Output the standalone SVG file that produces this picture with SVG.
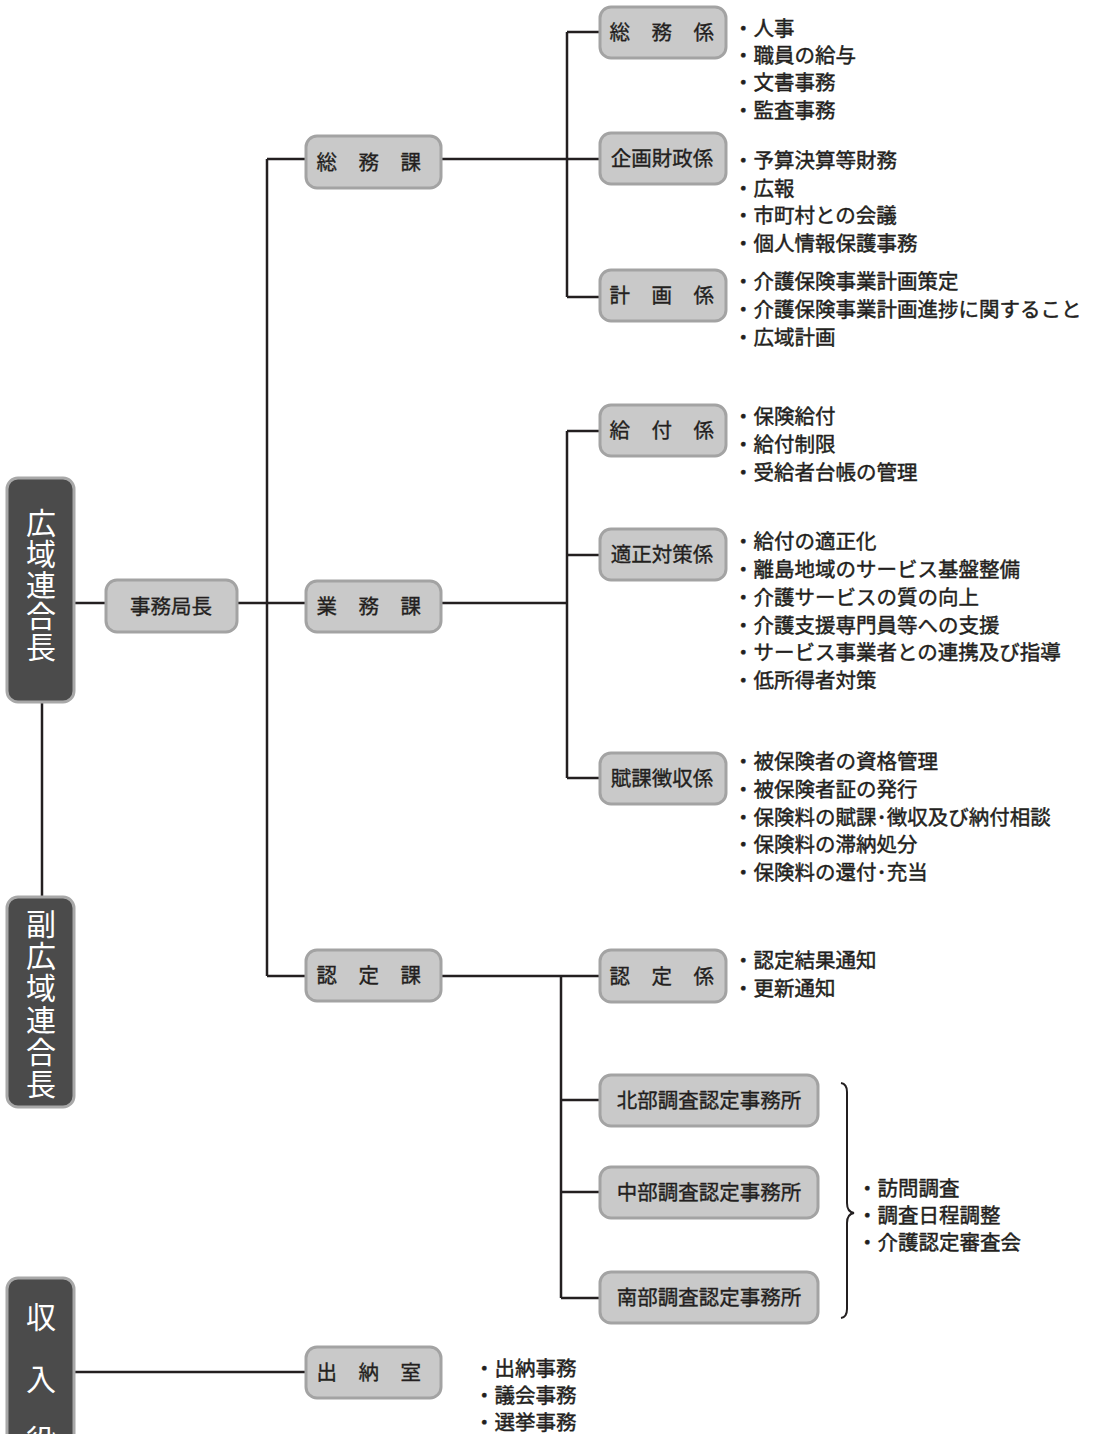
<svg xmlns="http://www.w3.org/2000/svg" width="1093" height="1434" viewBox="0 0 1093 1434">
<style>
.bx{fill:#c9c9c9;stroke:#a3a3a3;stroke-width:3}
.dk{fill:#4b4b4b;stroke:#a8a8a8;stroke-width:3}
.lbl{font-family:"Noto Sans CJK JP","Noto Sans CJK SC",sans-serif;font-size:20.5px;fill:#231f20;stroke:#231f20;stroke-width:0.35;text-anchor:middle}
.vt{font-family:"Noto Sans CJK JP","Noto Sans CJK SC",sans-serif;font-size:30px;fill:#ffffff;writing-mode:vertical-rl;text-orientation:upright}
.li{font-family:"Noto Sans CJK JP","Noto Sans CJK SC",sans-serif;font-size:20.5px;fill:#231f20;stroke:#231f20;stroke-width:0.45}
.cn{stroke:#231f20;stroke-width:2.5;fill:none}
</style>
<rect width="1093" height="1434" fill="#ffffff"/>
<g id="connectors" class="cn">
<path d="M42,702V897"/>
<path d="M74,603H106"/>
<path d="M237,603H306"/>
<path d="M267,159V976"/>
<path d="M267,159H306"/>
<path d="M267,976H306"/>
<path d="M441,159H600"/>
<path d="M567,32V297"/>
<path d="M567,32H600"/>
<path d="M567,297H600"/>
<path d="M441,603H567"/>
<path d="M567,431V778"/>
<path d="M567,431H600"/>
<path d="M567,555H600"/>
<path d="M567,778H600"/>
<path d="M441,976H600"/>
<path d="M561,976V1298"/>
<path d="M561,1100H600"/>
<path d="M561,1192H600"/>
<path d="M561,1298H600"/>
<path d="M74,1372H306"/>
<path d="M841,1083Q847,1084 847,1092L847,1203Q847,1212 854,1213Q847,1214 847,1223L847,1309Q847,1317 841,1318" stroke-width="2"/>
</g>
<g id="n-kouiki">
<rect class="dk" x="7" y="478" width="67" height="224" rx="11"/>
<text class="vt" x="41" y="508" letter-spacing="1">広域連合長</text>
</g>
<g id="n-fuku">
<rect class="dk" x="7" y="897" width="67" height="210" rx="11"/>
<text class="vt" x="41" y="909" letter-spacing="2">副広域連合長</text>
</g>
<g id="n-shunyu">
<rect class="dk" x="7" y="1278" width="67" height="170" rx="11"/>
<text class="vt" x="41" y="1302" letter-spacing="31.5">収入役</text>
</g>
<g id="n-jimukyokucho">
<rect class="bx" x="106" y="580" width="131" height="52" rx="11"/>
<text class="lbl" x="171" y="614">事務局長</text>
</g>
<g id="n-somuka">
<rect class="bx" x="306" y="136" width="135" height="52" rx="11"/>
<text class="lbl" x="369" y="169.5" letter-spacing="0.5">総　務　課</text>
</g>
<g id="n-gyomuka">
<rect class="bx" x="306" y="581" width="135" height="51" rx="11"/>
<text class="lbl" x="369" y="614" letter-spacing="0.5">業　務　課</text>
</g>
<g id="n-ninteika">
<rect class="bx" x="306" y="950" width="135" height="51" rx="11"/>
<text class="lbl" x="369" y="983" letter-spacing="0.5">認　定　課</text>
</g>
<g id="n-suitoshitsu">
<rect class="bx" x="306" y="1347" width="135" height="51" rx="11"/>
<text class="lbl" x="369" y="1380" letter-spacing="0.5">出　納　室</text>
</g>
<g id="n-somugakari">
<rect class="bx" x="600" y="7" width="126" height="51" rx="11"/>
<text class="lbl" x="662" y="40" letter-spacing="0.5">総　務　係</text>
</g>
<g id="n-kikaku">
<rect class="bx" x="600" y="133" width="126" height="51" rx="11"/>
<text class="lbl" x="662" y="166">企画財政係</text>
</g>
<g id="n-keikaku">
<rect class="bx" x="600" y="270" width="126" height="51" rx="11"/>
<text class="lbl" x="662" y="303" letter-spacing="0.5">計　画　係</text>
</g>
<g id="n-kyufu">
<rect class="bx" x="600" y="405" width="126" height="51" rx="11"/>
<text class="lbl" x="662" y="438" letter-spacing="0.5">給　付　係</text>
</g>
<g id="n-tekisei">
<rect class="bx" x="600" y="529" width="126" height="51" rx="11"/>
<text class="lbl" x="662" y="562">適正対策係</text>
</g>
<g id="n-fuka">
<rect class="bx" x="600" y="753" width="126" height="51" rx="11"/>
<text class="lbl" x="662" y="786">賦課徴収係</text>
</g>
<g id="n-nintei">
<rect class="bx" x="600" y="950" width="126" height="52" rx="11"/>
<text class="lbl" x="662" y="983.5" letter-spacing="0.5">認　定　係</text>
</g>
<g id="n-hokubu">
<rect class="bx" x="600" y="1075" width="218" height="51" rx="11"/>
<text class="lbl" x="709" y="1108">北部調査認定事務所</text>
</g>
<g id="n-chubu">
<rect class="bx" x="600" y="1167" width="218" height="51" rx="11"/>
<text class="lbl" x="709" y="1200">中部調査認定事務所</text>
</g>
<g id="n-nanbu">
<rect class="bx" x="600" y="1272" width="218" height="51" rx="11"/>
<text class="lbl" x="709" y="1305">南部調査認定事務所</text>
</g>
<g id="lists" class="li">
<text><tspan x="733" y="35.5">・人事</tspan><tspan x="733" y="62.5">・職員の給与</tspan><tspan x="733" y="90">・文書事務</tspan><tspan x="733" y="117.5">・監査事務</tspan></text>
<text><tspan x="733" y="167.5">・予算決算等財務</tspan><tspan x="733" y="195.5">・広報</tspan><tspan x="733" y="223">・市町村との会議</tspan><tspan x="733" y="250.5">・個人情報保護事務</tspan></text>
<text><tspan x="733" y="289">・介護保険事業計画策定</tspan><tspan x="733" y="317">・介護保険事業計画進捗に関すること</tspan><tspan x="733" y="344.5">・広域計画</tspan></text>
<text><tspan x="733" y="424">・保険給付</tspan><tspan x="733" y="451.5">・給付制限</tspan><tspan x="733" y="479.5">・受給者台帳の管理</tspan></text>
<text><tspan x="733" y="549">・給付の適正化</tspan><tspan x="733" y="577">・離島地域のサービス基盤整備</tspan><tspan x="733" y="605">・介護サービスの質の向上</tspan><tspan x="733" y="632.5">・介護支援専門員等への支援</tspan><tspan x="733" y="660">・サービス事業者との連携及び指導</tspan><tspan x="733" y="687.5">・低所得者対策</tspan></text>
<text><tspan x="733" y="769">・被保険者の資格管理</tspan><tspan x="733" y="796.5">・被保険者証の発行</tspan><tspan x="733" y="824.5">・保険料の賦課･徴収及び納付相談</tspan><tspan x="733" y="852">・保険料の滞納処分</tspan><tspan x="733" y="879.5">・保険料の還付･充当</tspan></text>
<text><tspan x="733" y="967.5">・認定結果通知</tspan><tspan x="733" y="995.5">・更新通知</tspan></text>
<text><tspan x="857" y="1195.5">・訪問調査</tspan><tspan x="857" y="1222.5">・調査日程調整</tspan><tspan x="857" y="1250">・介護認定審査会</tspan></text>
<text><tspan x="474" y="1375.5">・出納事務</tspan><tspan x="474" y="1402.5">・議会事務</tspan><tspan x="474" y="1430">・選挙事務</tspan></text>
</g>
</svg>
